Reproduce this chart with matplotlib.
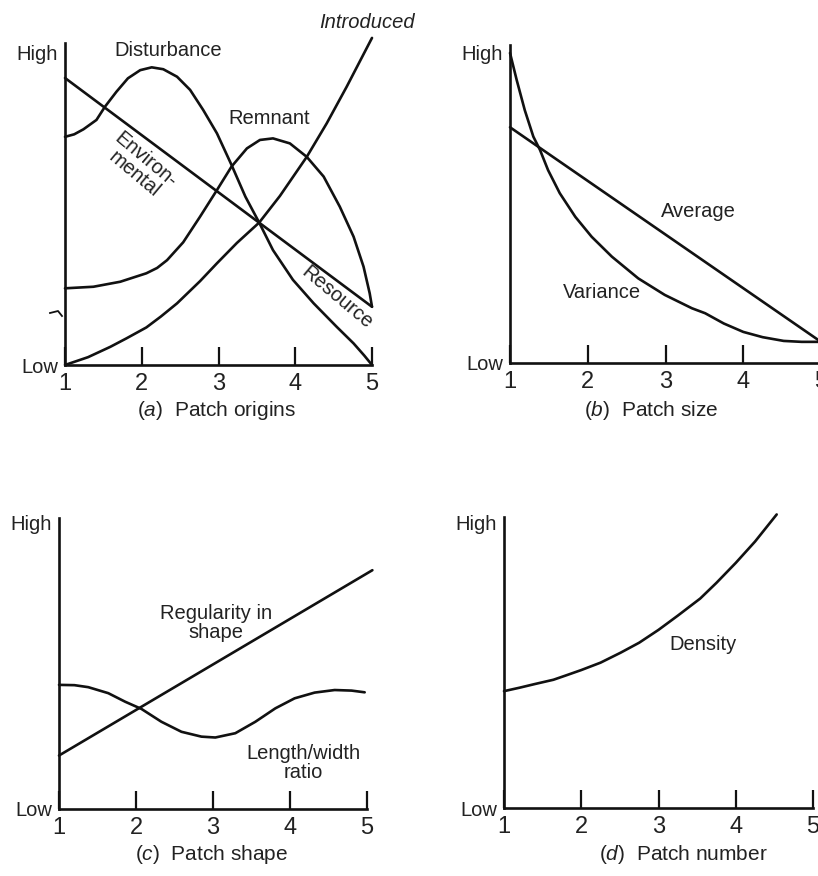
import matplotlib
matplotlib.use("Agg")
import matplotlib.pyplot as plt
from matplotlib.lines import Line2D

plt.rcParams['font.family'] = ['Liberation Sans', 'DejaVu Sans']
plt.rcParams['mathtext.fontset'] = 'custom'
plt.rcParams['mathtext.it'] = 'Liberation Sans:italic'
plt.rcParams['mathtext.rm'] = 'Liberation Sans'

INK = "#111111"
TXT = "#222222"
FS = 14.5

# ---- data (x = 1..5, y = 0 low .. 1 high) ----
# (a) patch origins
env_x = [1, 5]
env_y = [0.917, 0.186]

dist_x = [1, 1.12, 1.24, 1.41, 1.52, 1.67, 1.82, 1.98, 2.13, 2.28, 2.46, 2.63,
          2.8, 2.98, 3.17, 3.35, 3.53, 3.71, 3.97, 4.24, 4.54, 4.76, 4.9, 5]
dist_y = [0.729, 0.737, 0.753, 0.783, 0.825, 0.873, 0.916, 0.942, 0.951, 0.945,
          0.921, 0.879, 0.815, 0.74, 0.639, 0.538, 0.455, 0.367, 0.272, 0.197,
          0.122, 0.069, 0.03, 0]

rem_x = [1, 1.37, 1.72, 2.06, 2.2, 2.33, 2.54, 2.76, 2.98, 3.17, 3.37, 3.54,
         3.71, 3.93, 4.15, 4.37, 4.58, 4.76, 4.89, 4.97, 5]
rem_y = [0.245, 0.25, 0.266, 0.293, 0.31, 0.335, 0.392, 0.474, 0.559, 0.634,
         0.692, 0.719, 0.724, 0.708, 0.665, 0.602, 0.506, 0.41, 0.314, 0.229,
         0.186]

intro_x = [1, 1.3, 1.59, 1.8, 2.06, 2.25, 2.46, 2.76, 2.98, 3.24, 3.53, 3.8,
           4.15, 4.41, 4.67, 5]
intro_y = [0, 0.025, 0.058, 0.085, 0.12, 0.155, 0.197, 0.268, 0.325, 0.39,
           0.455, 0.54, 0.665, 0.772, 0.889, 1.045]

# (b) patch size
avg_x = [1, 5]
avg_y = [0.758, 0.068]

var_x = [1, 1.086, 1.19, 1.3, 1.386, 1.49, 1.64, 1.84, 2.05, 2.31, 2.65, 2.99,
         3.34, 3.51, 3.75, 4.0, 4.25, 4.52, 4.75, 5]
var_y = [0.997, 0.91, 0.813, 0.728, 0.685, 0.62, 0.546, 0.47, 0.406, 0.342,
         0.272, 0.219, 0.176, 0.16, 0.127, 0.1, 0.083, 0.071, 0.068, 0.068]

# (c) patch shape
reg_x = [1, 5.07]
reg_y = [0.187, 0.835]

lw_x = [1, 1.2, 1.38, 1.64, 1.86, 2.07, 2.33, 2.59, 2.85, 3.03, 3.29, 3.55,
        3.81, 4.06, 4.32, 4.58, 4.8, 4.97]
lw_y = [0.434, 0.433, 0.426, 0.405, 0.375, 0.35, 0.305, 0.27, 0.253, 0.25,
        0.265, 0.305, 0.352, 0.387, 0.407, 0.416, 0.414, 0.408]

# (d) patch number
dens_x = [1, 1.2, 1.4, 1.64, 1.8, 2, 2.25, 2.51, 2.75, 3, 3.25, 3.54, 3.75, 4,
          4.25, 4.53]
dens_y = [0.41, 0.422, 0.435, 0.45, 0.465, 0.484, 0.51, 0.545, 0.58, 0.625,
          0.675, 0.735, 0.79, 0.86, 0.935, 1.03]

x_ticks = [1, 2, 3, 4, 5]
y_labels = ["Low", "High"]

W, H = 818, 876
fig = plt.figure(figsize=(W / 100, H / 100), dpi=100)


def make_axes(x1, x5, y0, yhi, ytop):
    # place an axes from pixel positions of x=1, x=5, Low, High and spine top
    ax = fig.add_axes([x1 / W, 1 - y0 / H, (x5 - x1) / W, (y0 - ytop) / H])
    ax.set_xlim(1, 5)
    ax.set_ylim(0, (y0 - ytop) / (y0 - yhi))
    for s in ["top", "right"]:
        ax.spines[s].set_visible(False)
    for s in ["left", "bottom"]:
        ax.spines[s].set_linewidth(1.9)
        ax.spines[s].set_color(INK)
    ax.set_xticks(x_ticks)
    ax.set_xticklabels([str(t) for t in x_ticks], fontsize=17, color=TXT)
    ax.tick_params(axis="x", direction="in", length=13, width=1.6, pad=6,
                   color=INK)
    ax.set_yticks([0, 1])
    ax.set_yticklabels(y_labels, fontsize=FS, color=TXT)
    ax.tick_params(axis="y", length=0, pad=5)
    ax.patch.set_alpha(0)
    return ax


def curve(ax, x, y):
    ax.plot(x, y, color=INK, lw=1.9, clip_on=False, solid_capstyle="round",
            solid_joinstyle="round")


def label(px, py, s, **kw):
    fig.text(px / W, 1 - py / H, s, fontsize=kw.pop("fontsize", FS),
             ha="center", va="center", color=TXT, **kw)


# (a) Patch origins
ax_a = make_axes(65, 372, 365, 52, 43)
curve(ax_a, env_x, env_y)
curve(ax_a, dist_x, dist_y)
curve(ax_a, rem_x, rem_y)
curve(ax_a, intro_x, intro_y)
label(367, 22, "Introduced", style="italic")
label(168, 50, "Disturbance")
label(269, 119, "Remnant")
label(140, 167, "Environ-\nmental", rotation=-40, rotation_mode="anchor",
      linespacing=0.95)
label(337, 298, "Resource", rotation=-40, rotation_mode="anchor")
fig.add_artist(Line2D([50 / W, 58 / W, 62 / W],
                      [1 - 313 / H, 1 - 311 / H, 1 - 316 / H],
                      color=INK, lw=1.3))
label(216, 411, r"($\mathit{a}$)  Patch origins", fontsize=15)

# (b) Patch size
ax_b = make_axes(510, 821, 363, 52, 45)
curve(ax_b, avg_x, avg_y)
curve(ax_b, var_x, var_y)
label(698, 212, "Average")
label(602, 293, "Variance")
label(651, 411, r"($\mathit{b}$)  Patch size", fontsize=15)

# (c) Patch shape
ax_c = make_axes(59, 367, 809, 523, 518)
curve(ax_c, reg_x, reg_y)
curve(ax_c, lw_x, lw_y)
label(216, 623, "Regularity in\nshape", linespacing=1.0)
label(303, 763, "Length/width\nratio", linespacing=1.0)
label(212, 855, r"($\mathit{c}$)  Patch shape", fontsize=15)

# (d) Patch number
ax_d = make_axes(504, 813, 808, 523, 517)
curve(ax_d, dens_x, dens_y)
label(703, 644, "Density")
label(683, 855, r"($\mathit{d}$)  Patch number", fontsize=15)

fig.savefig("out.png", dpi=100, facecolor="white")
